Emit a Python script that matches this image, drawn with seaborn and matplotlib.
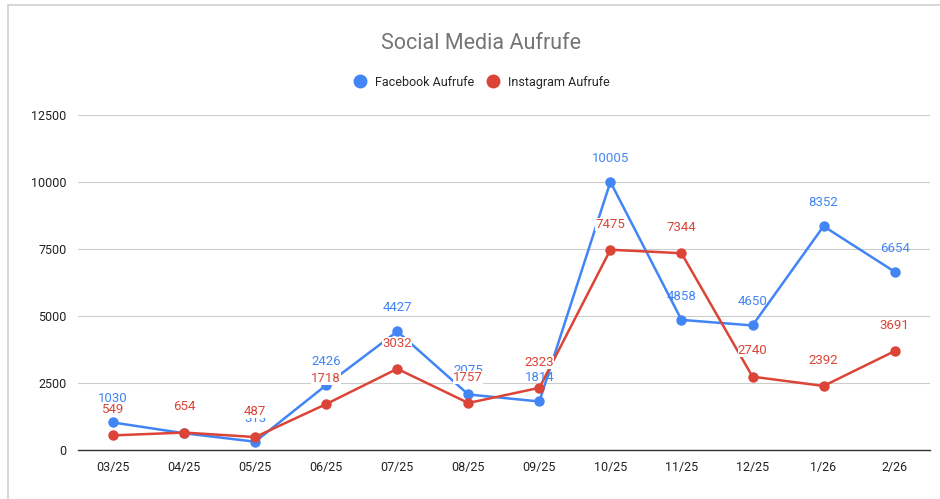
import matplotlib
matplotlib.use("Agg")
import matplotlib.pyplot as plt
import pandas as pd
import seaborn as sns
from matplotlib.lines import Line2D
from matplotlib.patches import Rectangle

monate = ["03/25", "04/25", "05/25", "06/25", "07/25", "08/25",
          "09/25", "10/25", "11/25", "12/25", "1/26", "2/26"]
facebook = [1030, 628, 313, 2426, 4427, 2075, 1814, 10005, 4858, 4650, 8352, 6654]
instagram = [549, 654, 487, 1718, 3032, 1757, 2323, 7475, 7344, 2740, 2392, 3691]
y_ticks = [0, 2500, 5000, 7500, 10000, 12500]

fb_col = "#4285F4"
ig_col = "#DB4437"

df = pd.DataFrame({
    "monat": monate * 2,
    "aufrufe": facebook + instagram,
    "kanal": ["Facebook Aufrufe"] * len(monate) + ["Instagram Aufrufe"] * len(monate),
})

sns.set_style("white")
plt.rcParams["font.family"] = ["Roboto", "DejaVu Sans"]

fig = plt.figure(figsize=(9.4, 4.99), dpi=100)
ax = fig.add_axes([0.0825, 0.098, 0.907, 0.6715])

# card border like the screenshot
fig.patches.append(Rectangle((0.008, -0.01), 1.0, 1.0, transform=fig.transFigure,
                             fill=False, edgecolor="#d0d0d0", linewidth=1.2))

sns.lineplot(data=df, x="monat", y="aufrufe", hue="kanal", sort=False,
             palette={"Facebook Aufrufe": fb_col, "Instagram Aufrufe": ig_col},
             marker="o", markersize=7.5, markeredgewidth=0, linewidth=1.8,
             legend=False, ax=ax)

# data labels, instagram ones on a white patch so they cover what's below (as in sheets)
for i, v in enumerate(facebook):
    ax.annotate(str(v), (i, v), xytext=(0, 17), textcoords="offset points",
                ha="center", va="center", fontsize=9.5, color=fb_col)
for i, v in enumerate(instagram):
    ax.annotate(str(v), (i, v), xytext=(0, 18.5), textcoords="offset points",
                ha="center", va="center", fontsize=9.5, color=ig_col,
                bbox=dict(boxstyle="square,pad=0.0", fc="white", ec="none"))

ax.set_xlim(-0.5, len(monate) - 0.5)
ax.set_ylim(0, 12500)
ax.set_yticks(y_ticks)
ax.set_yticklabels([str(t) for t in y_ticks])
ax.set_xlabel("")
ax.set_ylabel("")
ax.grid(axis="y", color="#cccccc", linewidth=0.8)
ax.set_axisbelow(True)
for s in ["top", "right", "left"]:
    ax.spines[s].set_visible(False)
ax.spines["bottom"].set_color("#333333")
ax.spines["bottom"].set_linewidth(1.0)
ax.tick_params(axis="both", length=0, labelsize=9, colors="#222222", pad=8)

fig.text(0.512, 0.912, "Social Media Aufrufe", ha="center", va="center",
         fontsize=15.5, color="#757575")

handles = [Line2D([], [], marker="o", linestyle="", color=fb_col, markersize=9),
           Line2D([], [], marker="o", linestyle="", color=ig_col, markersize=9)]
fig.legend(handles, ["Facebook Aufrufe", "Instagram Aufrufe"], loc="center",
           bbox_to_anchor=(0.512, 0.835), ncol=2, frameon=False, fontsize=9,
           handletextpad=0.7, columnspacing=1.0, handlelength=1.0)

fig.savefig("out.png", dpi=100, facecolor="white")
